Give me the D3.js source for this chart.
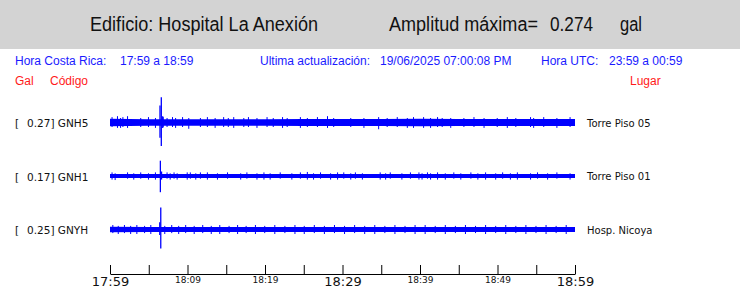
<!DOCTYPE html>
<html>
<head>
<meta charset="utf-8">
<script src="https://cdn.jsdelivr.net/npm/d3@7"></script>
<style>
  body { margin: 0; background: #fff; }
  svg { display: block; }
  .hdr { font-family: "Liberation Sans Narrow", "Liberation Sans", Arial, sans-serif; font-size: 20px; fill: #111; }
  .info { font-family: "Liberation Sans", Arial, sans-serif; font-size: 12px; fill: #1a1aff; }
  .red { font-family: "Liberation Sans", Arial, sans-serif; font-size: 12px; fill: #ff1a1a; }
  .lbl { font-family: "DejaVu Sans", sans-serif; font-size: 10.5px; fill: #111; }
  .place { font-family: "DejaVu Sans", sans-serif; font-size: 10px; fill: #111; }
</style>
</head>
<body>
<svg id="chart" width="740" height="288"></svg>
<script>
// --- data ---
const stations = ['GNH5', 'GNH1', 'GNYH'];
const peaks = ['0.27', '0.17', '0.25'];
const places = ['Torre Piso 05', 'Torre Piso 01', 'Hosp. Nicoya'];

// minutes after 17:59, one per axis tick
const tickMinutes = [0, 5, 10, 15, 20, 25, 30, 35, 40, 45, 50, 55, 60];
const tickLabels = ['17:59', '', '18:09', '', '18:19', '', '18:29', '', '18:39', '', '18:49', '', '18:59'];
const majorLabels = ['17:59', '18:29', '18:59'];

// half width of the noise band (gal) at each 5 minute tick
const bandGNH5 = [0.042, 0.037, 0.036, 0.036, 0.037, 0.038, 0.038, 0.039, 0.043, 0.039, 0.038, 0.039, 0.039];
const bandGNH1 = [0.023, 0.022, 0.022, 0.022, 0.022, 0.022, 0.023, 0.023, 0.023, 0.022, 0.023, 0.023, 0.023];
const bandGNYH = [0.030, 0.028, 0.028, 0.027, 0.028, 0.028, 0.028, 0.029, 0.029, 0.028, 0.028, 0.029, 0.029];

// short bursts poking out of the band: [minute, high, low] in gal
const burstsGNH5 = [
  [0.2, 0.06, -0.05], [0.9, 0.07, -0.06], [1.3, 0.05, -0.06], [1.6, 0.06, -0.05], [2.2, 0.07, -0.06],
  [3.9, 0.05, -0.05], [4.9, 0.06, -0.05], [5.8, 0.05, -0.06], [6.8, 0.06, -0.05], [7.3, 0.05, -0.05],
  [8.0, 0.06, -0.05], [8.4, 0.05, -0.06], [9.3, 0.06, -0.05], [10.1, 0.05, -0.07], [11.6, 0.05, -0.05],
  [12.5, 0.06, -0.05], [13.5, 0.05, -0.06], [14.6, 0.06, -0.05], [15.2, 0.05, -0.05], [15.9, 0.06, -0.06],
  [17.2, 0.05, -0.05], [17.8, 0.06, -0.05], [18.9, 0.05, -0.06], [20.2, 0.06, -0.05], [21.0, 0.05, -0.05],
  [22.2, 0.06, -0.06], [22.8, 0.05, -0.05], [24.5, 0.06, -0.06], [25.4, 0.05, -0.05], [26.7, 0.06, -0.05],
  [28.0, 0.07, -0.06], [28.8, 0.05, -0.05], [31.0, 0.05, -0.05], [32.7, 0.05, -0.06], [34.6, 0.06, -0.075],
  [35.7, 0.05, -0.05], [37.0, 0.06, -0.05], [38.3, 0.05, -0.06], [39.1, 0.06, -0.06], [40.4, 0.06, -0.06],
  [41.3, 0.05, -0.06], [42.2, 0.06, -0.05], [42.8, 0.05, -0.05], [43.9, 0.05, -0.06], [45.6, 0.05, -0.05],
  [46.9, 0.06, -0.05], [48.2, 0.05, -0.06], [49.9, 0.05, -0.05], [51.2, 0.06, -0.06], [52.3, 0.05, -0.05],
  [54.2, 0.06, -0.05], [54.6, 0.05, -0.06], [55.9, 0.06, -0.05], [57.6, 0.05, -0.06], [59.3, 0.06, -0.05]
];
const burstsGNH1 = [
  [0.2, 0.04, -0.04], [0.6, 0.03, -0.045], [2.2, 0.04, -0.03], [3.0, 0.03, -0.04], [3.9, 0.04, -0.03],
  [4.9, 0.03, -0.04], [5.8, 0.04, -0.04], [7.3, 0.04, -0.03], [7.7, 0.03, -0.04], [8.2, 0.04, -0.03],
  [8.6, 0.03, -0.04], [9.9, 0.04, -0.04], [10.3, 0.04, -0.03], [11.0, 0.03, -0.04], [11.6, 0.04, -0.03],
  [12.5, 0.04, -0.04], [13.8, 0.03, -0.04], [15.1, 0.04, -0.03], [16.8, 0.03, -0.04], [17.6, 0.04, -0.03],
  [18.9, 0.03, -0.04], [19.8, 0.04, -0.04], [20.6, 0.03, -0.04], [21.9, 0.04, -0.03], [23.4, 0.03, -0.04],
  [24.5, 0.04, -0.03], [25.4, 0.045, -0.04], [26.2, 0.03, -0.04], [27.1, 0.04, -0.03], [28.4, 0.03, -0.04],
  [29.3, 0.04, -0.04], [30.1, 0.04, -0.03], [31.0, 0.03, -0.04], [31.6, 0.04, -0.03], [32.5, 0.03, -0.04],
  [34.8, 0.04, -0.04], [35.5, 0.03, -0.04], [36.1, 0.04, -0.03], [37.6, 0.03, -0.04], [38.7, 0.04, -0.03],
  [39.8, 0.04, -0.04], [40.2, 0.03, -0.04], [40.9, 0.04, -0.03], [41.3, 0.03, -0.04], [42.2, 0.04, -0.04],
  [43.2, 0.03, -0.04], [44.3, 0.04, -0.03], [45.2, 0.03, -0.04], [46.5, 0.04, -0.03], [47.4, 0.03, -0.04],
  [48.4, 0.04, -0.04], [49.7, 0.03, -0.04], [50.6, 0.04, -0.03], [51.6, 0.03, -0.04], [52.5, 0.04, -0.04],
  [54.2, 0.03, -0.04], [55.1, 0.04, -0.03], [56.4, 0.03, -0.04], [57.6, 0.04, -0.03], [59.3, 0.03, -0.04]
];
const burstsGNYH = [
  [0.3, 0.05, -0.04], [1.0, 0.04, -0.05], [1.8, 0.05, -0.04], [2.6, 0.04, -0.05], [3.4, 0.05, -0.05],
  [4.4, 0.04, -0.04], [5.2, 0.05, -0.05], [7.0, 0.04, -0.05], [7.9, 0.05, -0.04], [8.8, 0.04, -0.05],
  [9.7, 0.05, -0.04], [10.8, 0.04, -0.05], [11.9, 0.05, -0.04], [13.0, 0.04, -0.05], [14.1, 0.05, -0.05],
  [15.3, 0.04, -0.04], [16.4, 0.05, -0.05], [17.5, 0.04, -0.04], [18.7, 0.05, -0.05], [19.9, 0.04, -0.04],
  [21.2, 0.05, -0.05], [22.5, 0.04, -0.04], [23.8, 0.05, -0.05], [25.0, 0.04, -0.05], [26.3, 0.05, -0.04],
  [27.6, 0.04, -0.05], [28.9, 0.05, -0.04], [30.2, 0.04, -0.05], [31.5, 0.05, -0.04], [32.8, 0.04, -0.05],
  [34.1, 0.05, -0.05], [35.4, 0.04, -0.04], [36.7, 0.05, -0.05], [38.0, 0.04, -0.04], [39.3, 0.05, -0.05],
  [40.6, 0.05, -0.05], [41.9, 0.04, -0.04], [43.2, 0.05, -0.05], [44.5, 0.04, -0.04], [45.8, 0.05, -0.05],
  [47.1, 0.04, -0.04], [48.4, 0.05, -0.05], [49.7, 0.04, -0.04], [51.0, 0.05, -0.05], [52.3, 0.04, -0.04],
  [53.6, 0.05, -0.05], [54.9, 0.04, -0.04], [56.2, 0.05, -0.05], [57.5, 0.04, -0.04], [58.8, 0.05, -0.05]
];

// the event at ~18:05: [minute, high, low] in gal
const eventGNH5 = [[6.45, 0.19, -0.17], [6.62, 0.28, -0.26], [6.8, 0.07, -0.06]];
const eventGNH1 = [[6.5, 0.17, -0.18], [6.65, 0.05, -0.04]];
const eventGNYH = [[6.42, 0.08, -0.06], [6.55, 0.245, -0.21]];

const bands = [bandGNH5, bandGNH1, bandGNYH];
const bursts = [burstsGNH5, burstsGNH1, burstsGNYH];
const events = [eventGNH5, eventGNH1, eventGNYH];

// --- layout ---
const svg = d3.select('#chart');
const blue = '#0000ff';

const x = d3.scaleLinear().domain([0, 60]).range([110, 575]);
const row = d3.scalePoint().domain(stations).range([122.5, 229.5]);
const amp = d3.scaleLinear().domain([-0.3, 0.3]).range([27, -27]);

// header band
svg.append('rect').attr('x', 0).attr('y', 0).attr('width', 740).attr('height', 49).attr('fill', '#d3d3d3');

const header = [
  ['Edificio: Hospital La Anexión', 90, 228],
  ['Amplitud máxima=', 389, 149],
  ['0.274', 550, 43],
  ['gal', 620, 22]
];
svg.selectAll('text.hdr').data(header).join('text')
  .attr('class', 'hdr')
  .attr('x', (d) => d[1]).attr('y', 31)
  .attr('textLength', (d) => d[2])
  .attr('lengthAdjust', 'spacingAndGlyphs')
  .text((d) => d[0]);

const info = [
  ['Hora Costa Rica:', 15], ['17:59 a 18:59', 120],
  ['Ultima actualización:', 260], ['19/06/2025 07:00:08 PM', 380],
  ['Hora UTC:', 541], ['23:59 a 00:59', 609]
];
svg.selectAll('text.info').data(info).join('text')
  .attr('class', 'info')
  .attr('x', (d) => d[1]).attr('y', 65)
  .text((d) => d[0]);

const heads = [['Gal', 15], ['Código', 50], ['Lugar', 630]];
svg.selectAll('text.red').data(heads).join('text')
  .attr('class', 'red')
  .attr('x', (d) => d[1]).attr('y', 85)
  .text((d) => d[0]);

// traces
stations.forEach((st, i) => {
  const cy = row(st);
  const g = svg.append('g').attr('transform', `translate(0,${cy})`);

  const area = d3.area()
    .x((d, j) => x(tickMinutes[j]))
    .y0((d) => amp(-d))
    .y1((d) => amp(d));
  g.append('path').datum(bands[i]).attr('d', area).attr('fill', blue);

  g.selectAll('line.burst').data(bursts[i]).join('line')
    .attr('class', 'burst')
    .attr('x1', (d) => x(d[0]) + 0.5).attr('x2', (d) => x(d[0]) + 0.5)
    .attr('y1', (d) => amp(d[1])).attr('y2', (d) => amp(d[2]))
    .attr('stroke', blue).attr('stroke-width', 1);

  g.selectAll('line.event').data(events[i]).join('line')
    .attr('class', 'event')
    .attr('x1', (d) => x(d[0])).attr('x2', (d) => x(d[0]))
    .attr('y1', (d) => amp(d[1])).attr('y2', (d) => amp(d[2]))
    .attr('stroke', blue).attr('stroke-width', 1.3);

  svg.append('text').attr('class', 'lbl').attr('x', 15).attr('y', cy + 4.5).text('[');
  svg.append('text').attr('class', 'lbl').attr('x', 27).attr('y', cy + 4.5).text(`${peaks[i]}] ${st}`);
  svg.append('text').attr('class', 'place').attr('x', 587).attr('y', cy + 4).text(places[i]);
});

// time axis, ticks pointing up
const axis = d3.axisBottom(x)
  .tickValues(tickMinutes)
  .tickSizeInner(-9)
  .tickSizeOuter(0)
  .tickFormat((d, i) => tickLabels[i]);

const ax = svg.append('g').attr('transform', 'translate(0,274)').call(axis);
ax.select('.domain').attr('stroke', '#000');
ax.selectAll('.tick line').attr('stroke', '#000');
ax.selectAll('.tick text')
  .attr('font-family', 'DejaVu Sans, sans-serif')
  .attr('fill', '#111')
  .attr('dy', 0)
  .attr('font-size', function () { return majorLabels.includes(this.textContent) ? 13 : 9; })
  .attr('y', function () { return majorLabels.includes(this.textContent) ? 12 : 9; });
</script>
</body>
</html>
